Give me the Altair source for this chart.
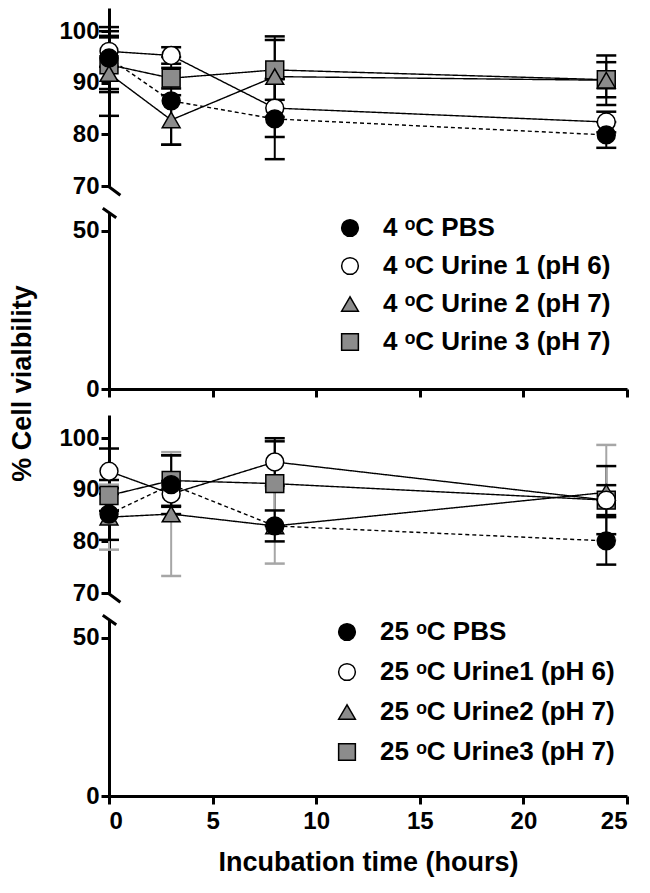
import altair as alt
import pandas as pd

FONT = "Liberation Sans"

hours = [0, 3, 8, 24]

top_names = ["4 ᵒC PBS", "4 ᵒC Urine 1 (pH 6)", "4 ᵒC Urine 2 (pH 7)", "4 ᵒC Urine 3 (pH 7)"]
top_pbs = [94.8, 86.5, 83.0, 79.9]
top_u1 = [96.1, 95.3, 85.1, 82.4]
top_u2 = [91.8, 82.8, 91.2, 90.5]
top_u3 = [93.5, 90.9, 92.5, 90.6]
top_pbs_err = [6.0, 8.5, 7.8, 2.5]
top_u1_err = [3.0, 1.6, 5.6, 2.0]
top_u2_err = [8.2, 4.8, 7.8, 4.8]
top_u3_err = [5.3, 2.0, 5.8, 3.4]

bot_names = ["25 ᵒC PBS", "25 ᵒC Urine1 (pH 6)", "25 ᵒC Urine2 (pH 7)", "25 ᵒC Urine3 (pH 7)"]
bot_pbs = [85.3, 91.0, 83.0, 80.1]
bot_u1 = [93.6, 89.2, 95.4, 88.0]
bot_u2 = [84.7, 85.3, 83.0, 89.5]
bot_u3 = [88.9, 91.8, 91.2, 88.0]
bot_pbs_err = [5.0, 5.7, 3.0, 4.6]
bot_u1_err = [4.4, 2.5, 4.6, 2.9]
bot_u2_err = [6.3, 12.0, 7.3, 9.2]
bot_u3_err = [3.0, 4.9, 8.2, 6.6]

fills = ["black", "white", "#8c8c8c", "#8c8c8c"]
strokes = ["black", "black", "black", "black"]
shapes = ["circle", "circle", "triangle-up", "square"]
sizes = [320, 320, 420, 430]
dashes = [[4, 3], [1, 0], [1, 0], [1, 0]]
top_bar_colors = ["black", "black", "black", "black"]
bot_bar_colors = ["black", "black", "#a6a6a6", "black"]


def make_df(names, means, errs, barcols):
    rows = []
    # draw order: Urine3, Urine2, Urine1, PBS (PBS on top)
    for i in [3, 2, 1, 0]:
        for h, m, e in zip(hours, means[i], errs[i]):
            rows.append({"series": names[i], "hour": h, "mean": m,
                         "lo": m - e, "hi": m + e, "barcol": barcols[i]})
    return pd.DataFrame(rows)


top_df = make_df(top_names, [top_pbs, top_u1, top_u2, top_u3],
                 [top_pbs_err, top_u1_err, top_u2_err, top_u3_err], top_bar_colors)
bot_df = make_df(bot_names, [bot_pbs, bot_u1, bot_u2, bot_u3],
                 [bot_pbs_err, bot_u1_err, bot_u2_err, bot_u3_err], bot_bar_colors)

W = 518
H_UP = 178
H_LO = 177
UP_DOMAIN = [70, 104.5]
LO_DOMAIN = [0, 56]

axis_common = dict(domainColor="black", domainWidth=3, tickColor="black", tickWidth=3,
                   tickSize=8, labelFont=FONT, labelFontWeight="bold", labelFontSize=24,
                   labelColor="black", grid=False)


def y_axis(vals, title=None):
    kw = dict(axis_common)
    kw.update(values=vals, labelPadding=2)
    if title:
        kw.update(title=title, titleX=-73, titleY=171, titleAngle=270, titleAlign="center",
                  titleBaseline="bottom", titleFont=FONT, titleFontSize=27,
                  titleFontWeight="bold", titleColor="black")
    else:
        kw.update(title=None)
    return alt.Axis(**kw)


def x_axis(labels, title=None):
    kw = dict(axis_common)
    kw.update(values=[0, 5, 10, 15, 20, 25], labels=labels, labelPadding=5)
    if title:
        kw.update(title=title, titleFont=FONT, titleFontSize=27, titleFontWeight="bold",
                  titleColor="black", titlePadding=16)
    else:
        kw.update(title=None)
    return alt.Axis(**kw)


def enc_scales(names, legend):
    return dict(
        fill=alt.Fill("series:N", scale=alt.Scale(domain=names, range=fills), legend=legend),
        shape=alt.Shape("series:N", scale=alt.Scale(domain=names, range=shapes), legend=legend),
        stroke=alt.Stroke("series:N", scale=alt.Scale(domain=names, range=strokes), legend=legend),
    )


def upper(df, names):
    xs = alt.Scale(domain=[0, 25], nice=False, zero=False)
    ys = alt.Scale(domain=UP_DOMAIN, nice=False, zero=False)
    ya = y_axis([70, 80, 90, 100])
    X = lambda f="hour:Q": alt.X(f, scale=xs, axis=None)
    base = alt.Chart(df)
    lines = base.mark_line(color="black", strokeWidth=1.4).encode(
        x=X(), y=alt.Y("mean:Q", scale=ys, axis=ya), detail="series:N",
        strokeDash=alt.StrokeDash("series:N", scale=alt.Scale(domain=names, range=dashes), legend=None),
    )
    bars = base.mark_rule(strokeWidth=2, opacity=1).encode(
        x=X(), y=alt.Y("lo:Q", scale=ys, axis=ya), y2="hi:Q",
        color=alt.Color("barcol:N", scale=None),
    )
    cap_lo = base.mark_tick(orient="horizontal", size=20, thickness=2.5, opacity=1).encode(
        x=X(), y=alt.Y("lo:Q", scale=ys, axis=ya), color=alt.Color("barcol:N", scale=None))
    cap_hi = base.mark_tick(orient="horizontal", size=20, thickness=2.5, opacity=1).encode(
        x=X(), y=alt.Y("hi:Q", scale=ys, axis=ya), color=alt.Color("barcol:N", scale=None))
    pts = base.mark_point(filled=True, strokeWidth=1.5, opacity=1).encode(
        x=X(), y=alt.Y("mean:Q", scale=ys, axis=ya),
        size=alt.Size("series:N", scale=alt.Scale(domain=names, range=sizes), legend=None),
        **enc_scales(names, None),
    )
    brk = alt.Chart(alt.Data(values=[{}])).mark_rule(color="black", strokeWidth=3).encode(
        x=alt.X(datum=-0.05, scale=xs, axis=None), y=alt.Y(datum=70.0, scale=ys, axis=ya),
        x2=alt.X2(datum=0.55), y2=alt.Y2(datum=68.2),
    )
    return alt.layer(lines, bars, cap_lo, cap_hi, pts, brk).properties(width=W, height=H_UP)


def lower(df, names, xaxis, legend, ytitle=None):
    xs = alt.Scale(domain=[0, 25], nice=False, zero=False)
    ys = alt.Scale(domain=LO_DOMAIN, nice=False, zero=False)
    ya = y_axis([0, 50], ytitle)
    pts = alt.Chart(df).mark_point(filled=True, strokeWidth=1.5, opacity=1,
                                   clip=True).encode(
        x=alt.X("hour:Q", scale=xs, axis=xaxis), y=alt.Y("mean:Q", scale=ys, axis=ya),
        **enc_scales(names, legend),
    )
    brk = alt.Chart(alt.Data(values=[{}])).mark_rule(color="black", strokeWidth=3).encode(
        x=alt.X(datum=-0.3, scale=xs, axis=xaxis), y=alt.Y(datum=57.2, scale=ys, axis=ya),
        x2=alt.X2(datum=0.35), y2=alt.Y2(datum=54.2),
    )
    return alt.layer(pts, brk).properties(width=W, height=H_LO)


def legend(lx, ly, rowpad):
    return alt.Legend(orient="none", legendX=lx, legendY=ly, title=None, labelFont=FONT,
                      labelFontSize=26, labelFontWeight="bold", labelColor="black",
                      symbolSize=280, symbolStrokeWidth=1.5,
                      rowPadding=rowpad, labelOffset=20, padding=0, labelLimit=0)


RES = dict(fill="independent", shape="independent", strokeDash="independent",
           size="independent", stroke="independent")

chart = alt.vconcat(
    upper(top_df, top_names),
    lower(top_df, top_names, x_axis(False), legend(228, 3, 12), "% Cell vialbility"),
    upper(bot_df, bot_names),
    lower(bot_df, bot_names, x_axis(True, "Incubation time (hours)"), legend(225, 0, 14)),
    spacing=26, bounds="flush",
).resolve_scale(**RES).properties(
    padding={"left": 0, "top": 0, "right": 5, "bottom": 5}
).configure_view(stroke=None)

chart.save("out.html", embed_options={"renderer": "svg", "actions": False})
